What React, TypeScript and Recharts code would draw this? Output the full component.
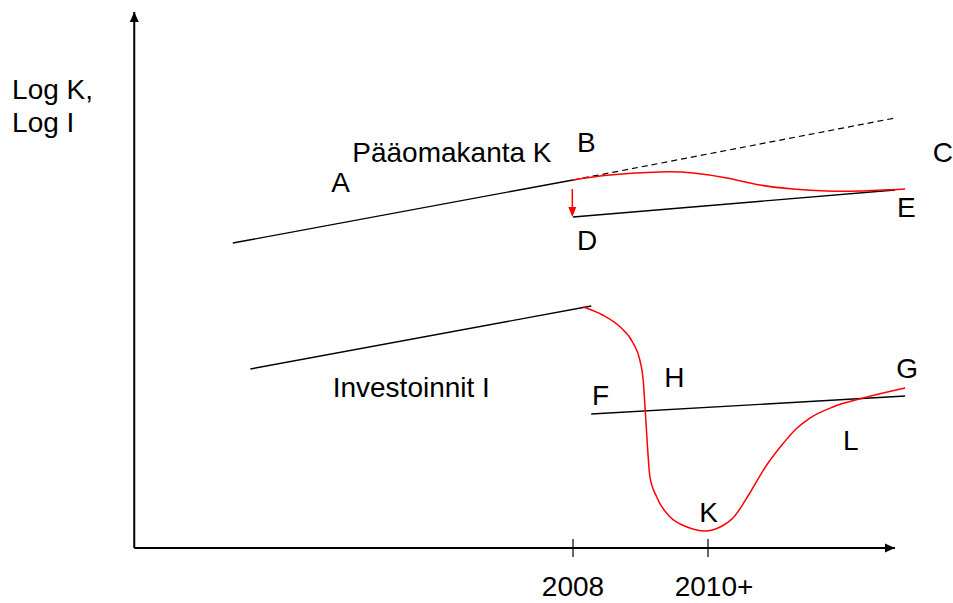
import { LineChart, Line, XAxis, YAxis, ReferenceLine, ReferenceDot } from "recharts"

const xTicks = [2008, 2010]
const xTickLabels = ["2008", "2010+"]

// capital stock K (log scale, arbitrary units)
const capitalTrend = [
  { x: 2002.96, y: 56.9 },
  { x: 2008, y: 68.66 },
]
const capitalOldPath = [
  { x: 2008, y: 68.66 },
  { x: 2012.77, y: 80.22 },
]
const capitalNewTrend = [
  { x: 2008, y: 61.75 },
  { x: 2012.77, y: 66.79 },
]
const capitalActual = [
  { x: 2008, y: 68.66 },
  { x: 2008.55, y: 69.59 },
  { x: 2009.29, y: 70.15 },
  { x: 2009.78, y: 69.96 },
  { x: 2010.28, y: 69.03 },
  { x: 2010.77, y: 67.72 },
  { x: 2011.26, y: 66.98 },
  { x: 2011.76, y: 66.6 },
  { x: 2012.25, y: 66.6 },
  { x: 2012.92, y: 66.98 },
]

// investments I
const investTrend = [
  { x: 2003.22, y: 33.4 },
  { x: 2008.27, y: 45.15 },
]
const investNewTrend = [
  { x: 2008.27, y: 25.0 },
  { x: 2012.92, y: 28.36 },
]
const investActual = [
  { x: 2008.15, y: 44.96 },
  { x: 2008.44, y: 43.47 },
  { x: 2008.7, y: 41.23 },
  { x: 2008.89, y: 38.25 },
  { x: 2008.99, y: 35.07 },
  { x: 2009.04, y: 31.34 },
  { x: 2009.07, y: 25.75 },
  { x: 2009.1, y: 19.59 },
  { x: 2009.14, y: 13.25 },
  { x: 2009.24, y: 9.51 },
  { x: 2009.44, y: 5.78 },
  { x: 2009.69, y: 3.92 },
  { x: 2009.96, y: 3.17 },
  { x: 2010.18, y: 3.92 },
  { x: 2010.37, y: 5.6 },
  { x: 2010.62, y: 10.26 },
  { x: 2010.84, y: 14.93 },
  { x: 2011.07, y: 18.84 },
  { x: 2011.32, y: 22.39 },
  { x: 2011.51, y: 24.25 },
  { x: 2011.85, y: 26.31 },
  { x: 2012.3, y: 27.99 },
  { x: 2012.92, y: 29.85 },
]

// the drop of K at 2008 (red arrow)
const dropStart = { x: 2007.99, y: 66.98 }
const dropEnd = { x: 2007.99, y: 61.75 }

// axis ends
const axisOrigin = { x: 2001.5, y: 0 }
const axisXEnd = { x: 2012.77, y: 0 }
const axisYEnd = { x: 2001.5, y: 100 }

const labels = [
  { text: "Log K,", x: 1999.69, y: 83.77 },
  { text: "Log I", x: 1999.69, y: 77.61 },
  { text: "Pääomakanta K", x: 2004.73, y: 72.01 },
  { text: "A", x: 2004.42, y: 66.42 },
  { text: "B", x: 2008.06, y: 73.88 },
  { text: "C", x: 2013.33, y: 72.01 },
  { text: "D", x: 2008.06, y: 55.6 },
  { text: "E", x: 2012.8, y: 61.75 },
  { text: "Investoinnit I", x: 2004.44, y: 28.17 },
  { text: "F", x: 2008.28, y: 26.68 },
  { text: "H", x: 2009.35, y: 30.04 },
  { text: "G", x: 2012.79, y: 31.72 },
  { text: "L", x: 2012.0, y: 18.28 },
  { text: "K", x: 2009.87, y: 4.85 },
]

const font = "'Liberation Sans', Arial, sans-serif"

function YearTick(props: any) {
  const { x, y, payload } = props
  const label = xTickLabels[xTicks.indexOf(payload.value)]
  const shift = label.endsWith("+") ? 6 : 0
  return (
    <g>
      <line x1={x} x2={x} y1={y - 9} y2={y + 9} stroke="#000" strokeWidth={1.2} />
      <text x={x + shift} y={y + 48} textAnchor="middle" fontSize={28} fontFamily={font} fill="#000">
        {label}
      </text>
    </g>
  )
}

const arrow = (dir: "up" | "right" | "down", color: string) => (props: any) => {
  const { cx, cy } = props
  let pts = ""
  if (dir === "up") pts = `${cx},${cy} ${cx - 4.5},${cy + 10} ${cx + 4.5},${cy + 10}`
  if (dir === "right") pts = `${cx},${cy} ${cx - 10},${cy - 4.5} ${cx - 10},${cy + 4.5}`
  if (dir === "down") pts = `${cx},${cy} ${cx - 4},${cy - 10} ${cx + 4},${cy - 10}`
  return <polygon points={pts} fill={color} />
}

const textShape = (text: string) => (props: any) => (
  <text x={props.cx} y={props.cy} fontSize={28} fontFamily={font} fill="#000">
    {text}
  </text>
)

export default function App() {
  return (
    <div style={{ position: "absolute", left: 0, top: 0, width: 953, height: 603, background: "#fff" }}>
      <LineChart width={953} height={603} margin={{ top: 12, right: 15.5, bottom: 25, left: 127.5 }}>
        <XAxis
          type="number"
          dataKey="x"
          domain={[2001.4, 2013.4]}
          allowDataOverflow
          ticks={xTicks}
          interval={0}
          axisLine={false}
          tickLine={false}
          tickSize={0}
          tickMargin={0}
          height={30}
          tick={<YearTick />}
        />
        <YAxis type="number" dataKey="y" domain={[0, 100]} allowDataOverflow hide width={0} />

        <ReferenceLine segment={[axisOrigin, axisXEnd]} stroke="#000" strokeWidth={2} ifOverflow="visible" />
        <ReferenceLine segment={[axisOrigin, axisYEnd]} stroke="#000" strokeWidth={2} ifOverflow="visible" />
        <ReferenceDot x={axisXEnd.x} y={axisXEnd.y} r={0} ifOverflow="visible" shape={arrow("right", "#000")} />
        <ReferenceDot x={axisYEnd.x} y={axisYEnd.y} r={0} ifOverflow="visible" shape={arrow("up", "#000")} />

        <Line data={capitalTrend} dataKey="y" type="linear" stroke="#000" strokeWidth={1.4} dot={false} isAnimationActive={false} />
        <Line data={capitalOldPath} dataKey="y" type="linear" stroke="#000" strokeWidth={1.2} strokeDasharray="6 4" dot={false} isAnimationActive={false} />
        <Line data={capitalNewTrend} dataKey="y" type="linear" stroke="#000" strokeWidth={1.4} dot={false} isAnimationActive={false} />
        <Line data={investTrend} dataKey="y" type="linear" stroke="#000" strokeWidth={1.4} dot={false} isAnimationActive={false} />
        <Line data={investNewTrend} dataKey="y" type="linear" stroke="#000" strokeWidth={1.4} dot={false} isAnimationActive={false} />
        <Line data={capitalActual} dataKey="y" type="natural" stroke="#ff0000" strokeWidth={1.5} dot={false} isAnimationActive={false} />
        <Line data={investActual} dataKey="y" type="monotone" stroke="#ff0000" strokeWidth={1.5} dot={false} isAnimationActive={false} />

        <ReferenceLine segment={[dropStart, { x: dropEnd.x, y: dropEnd.y + 1.7 }]} stroke="#ff0000" strokeWidth={1.5} ifOverflow="visible" />
        <ReferenceDot x={dropEnd.x} y={dropEnd.y} r={0} ifOverflow="visible" shape={arrow("down", "#ff0000")} />

        {labels.map((l) => (
          <ReferenceDot key={l.text} x={l.x} y={l.y} r={0} ifOverflow="visible" shape={textShape(l.text)} />
        ))}
      </LineChart>
    </div>
  )
}
